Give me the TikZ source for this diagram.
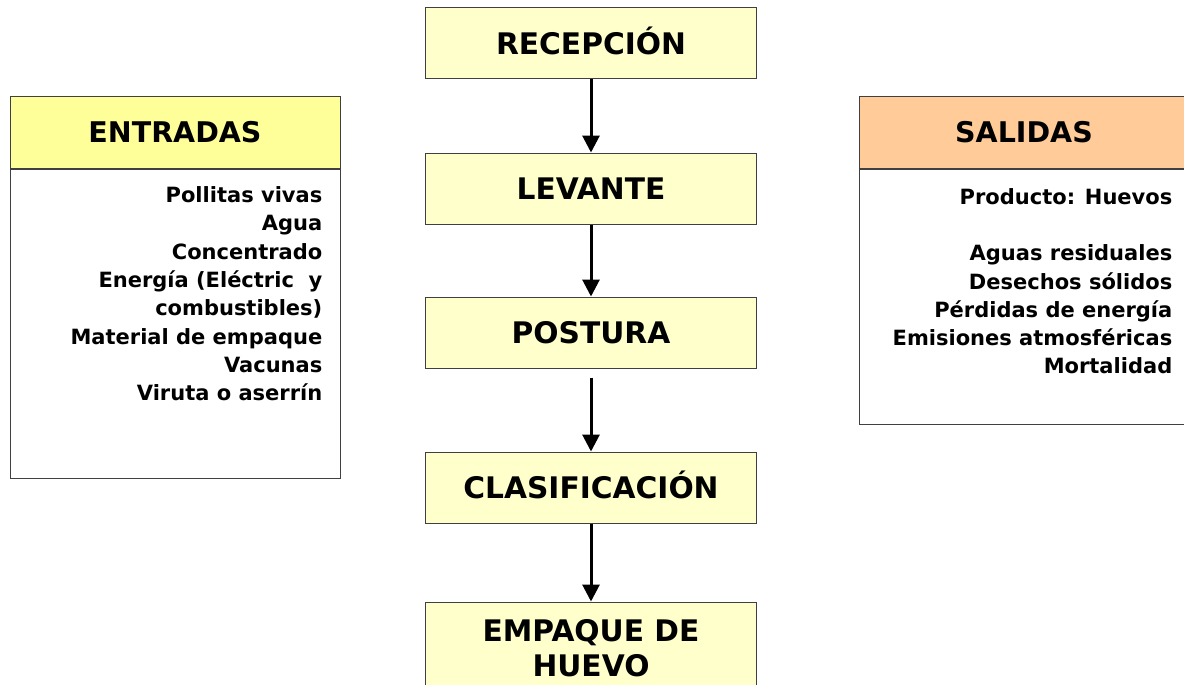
\documentclass[tikz,border=0pt]{standalone}
\usepackage{fontspec}
\setmainfont{DejaVu Sans}
\usepackage{tikz}
\usetikzlibrary{positioning,arrows.meta}
\definecolor{pasoamarillo}{HTML}{FFFFCC}
\definecolor{entamarillo}{HTML}{FFFF99}
\definecolor{salnaranja}{HTML}{FFCC99}
\definecolor{borde}{HTML}{404040}
\tikzstyle{pasobox} = [draw=borde, fill=pasoamarillo, line width=1pt,
rectangle, minimum width=331pt, minimum height=71pt, inner sep=0pt,
font=\fontsize{29.7}{35}\selectfont\bfseries]
\tikzstyle{pasotexto} = [text height=21.5pt, text depth=0pt, yshift=0pt]
\tikzstyle{titulobox} = [draw=borde, line width=1pt, rectangle,
minimum width=330pt, minimum height=71pt, inner sep=0pt,
font=\fontsize{28.5}{34}\selectfont\bfseries]
\tikzstyle{cuerpobox} = [draw=borde, fill=white, line width=1pt, rectangle,
minimum width=330pt, inner sep=0pt]
\tikzstyle{lista} = [align=right, inner sep=0pt,
font=\fontsize{21}{28.3}\selectfont\bfseries]
\tikzstyle{flecha} = [line width=3pt, -{Triangle[width=17pt,length=17pt]}]

\begin{document}
\begin{tikzpicture}[x=1pt,y=-1pt]
		\useasboundingbox (0,0) rectangle (1184,685);
		\clip (0,0) rectangle (1184,685);
		% pasos del proceso
		\node [pasobox, pasotexto] (recepcion) at (591,43.5) {RECEPCIÓN};
		\node [pasobox, pasotexto, below=73pt of recepcion] (levante) {LEVANTE};
		\node [pasobox, pasotexto, below=72pt of levante] (postura) {POSTURA};
		\node [pasobox, pasotexto, below=83pt of postura] (clasificacion) {CLASIFICACIÓN};
		\node [pasobox, below=78pt of clasificacion, minimum height=93pt, align=center] (empaque) {EMPAQUE DE\\HUEVO};
		
		\draw [flecha] (recepcion) -- (levante);
		\draw [flecha] (levante) -- (postura);
		\draw [flecha, shorten <=9pt] (postura) -- (clasificacion);
		\draw [flecha] (clasificacion) -- (empaque);
		
		% entradas
		\node [titulobox, fill=entamarillo] (entradas) at (175,132.5) {ENTRADAS};
		\node [cuerpobox, below=0pt of entradas, minimum height=309pt] (entcuerpo) {};
		\node [lista, anchor=north east] (entlista) at ([xshift=-18pt,yshift=-18pt]entcuerpo.north east) {%
			Pollitas vivas\\
			Agua\\
			Concentrado\\
			Energía (Eléctric\ \ y\\
			combustibles)\\
			Material de empaque\\
			Vacunas\\
			Viruta o aserrín};
		
		% salidas
		\node [titulobox, fill=salnaranja] (salidas) at (1024,132.5) {SALIDAS};
		\node [cuerpobox, below=0pt of salidas, minimum height=255pt] (salcuerpo) {};
		\node [lista, anchor=north east] (sallista) at ([xshift=-17pt,yshift=-19.5pt]salcuerpo.north east) {%
			Producto: Huevos\\[28.3pt]
			Aguas residuales\\
			Desechos sólidos\\
			Pérdidas de energía\\
			Emisiones atmosféricas\\
			Mortalidad};
		%\node [lista] at (0,0) {};
\end{tikzpicture}
\end{document}
